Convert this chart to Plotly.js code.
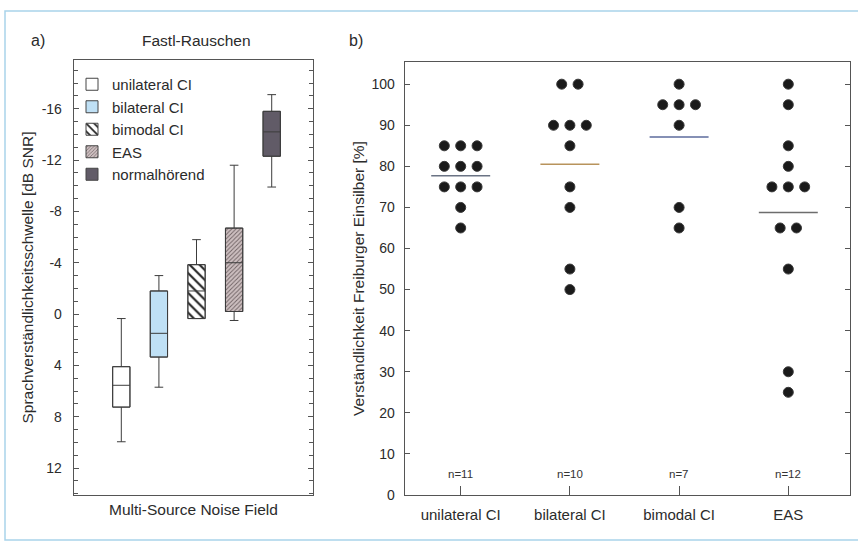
<!DOCTYPE html>
<html>
<head>
<meta charset="utf-8">
<script src="https://cdn.plot.ly/plotly-3.0.1.min.js"></script>
<style>html,body{margin:0;padding:0;background:#fff;}#chart{width:858px;height:549px;}</style>
</head>
<body>
<div id="chart"></div>
<script>
// ---------- Panel a) box plots (dB SNR, axis reversed) ----------
const boxNames = ['unilateral CI', 'bilateral CI', 'bimodal CI', 'EAS', 'normalhörend'];
const whiskerLow = [0.35, -3.0, -5.8, -11.6, -17.1];
const quartile1 = [4.1, -1.8, -3.85, -6.7, -15.8];
const medians = [5.55, 1.5, -1.8, -4.0, -14.2];
const quartile3 = [7.25, 3.35, 0.35, -0.2, -12.3];
const whiskerHigh = [9.95, 5.7, 0.35, 0.5, -9.9];
const leftTickVals = [-16, -12, -8, -4, 0, 4, 8, 12];
const leftTickText = ['-16', '-12', '-8', '-4', '0', '4', '8', '12'];

// ---------- Panel b) scores (%) ----------
const groups = ['unilateral CI', 'bilateral CI', 'bimodal CI', 'EAS'];
const scoresUnilateral = [85, 85, 85, 80, 80, 80, 75, 75, 75, 70, 65];
const scoresBilateral = [100, 100, 90, 90, 90, 85, 75, 70, 55, 50];
const scoresBimodal = [100, 95, 95, 95, 90, 70, 65];
const scoresEAS = [100, 95, 85, 80, 75, 75, 75, 65, 65, 55, 30, 25];

// ---------- styles ----------
const FONT = 'Liberation Sans, Arial, sans-serif';
const INK = '#2b2b2b';
const AXC = '#555555';
const boxStyles = [
  {color: '#ffffff', pattern: {shape: ''}},
  {color: '#bfe0f5', pattern: {shape: ''}},
  {color: '#ffffff', pattern: {shape: '\\', bgcolor: '#ffffff', fgcolor: '#222222', size: 7, solidity: 0.3}},
  {color: '#cdbfc0', pattern: {shape: '/', bgcolor: '#cdbfc0', fgcolor: '#6f6264', size: 3, solidity: 0.3}},
  {color: '#615b67', pattern: {shape: ''}}
];
const meanColors = ['#6a7384', '#b8935c', '#5d6b9c', '#6d6d6d'];

const traces = [];
const BOXW = 0.46;

boxNames.forEach((name, i) => {
  // filled (optionally hatched) box body, also used for the legend swatch
  traces.push({
    type: 'bar', x: [i], base: [quartile1[i]], y: [quartile3[i] - quartile1[i]],
    width: BOXW, name: name, xaxis: 'x', yaxis: 'y', showlegend: true,
    marker: {color: boxStyles[i].color, pattern: boxStyles[i].pattern,
             line: {color: '#444', width: 1}},
    hoverinfo: 'skip'
  });
  // outline, median and whiskers
  traces.push({
    type: 'box', x: [i], q1: [quartile1[i]], median: [medians[i]], q3: [quartile3[i]],
    lowerfence: [whiskerLow[i]], upperfence: [whiskerHigh[i]],
    width: BOXW, whiskerwidth: 0.5, name: name, xaxis: 'x', yaxis: 'y', showlegend: false,
    fillcolor: 'rgba(0,0,0,0)', line: {color: '#3c3c3c', width: 1}, hoverinfo: 'skip'
  });
});

// beeswarm-style horizontal spread of equal values, derived from the data
function spread(values, center, step) {
  const counts = {}, seen = {};
  values.forEach(v => counts[v] = (counts[v] || 0) + 1);
  return values.map(v => {
    const k = counts[v];
    const j = seen[v] = (seen[v] === undefined ? 0 : seen[v] + 1);
    return center + (j - (k - 1) / 2) * step;
  });
}
const allScores = [scoresUnilateral, scoresBilateral, scoresBimodal, scoresEAS];
allScores.forEach((vals, i) => {
  traces.push({
    type: 'scatter', mode: 'markers', x: spread(vals, i, 0.15), y: vals,
    xaxis: 'x2', yaxis: 'y2', showlegend: false, hoverinfo: 'y',
    marker: {size: 10, color: '#1a1a1a', line: {color: '#3a3a3a', width: 1}}
  });
  const mean = vals.reduce((a, b) => a + b, 0) / vals.length;
  traces.push({
    type: 'scatter', mode: 'lines', x: [i - 0.27, i + 0.27], y: [mean, mean],
    xaxis: 'x2', yaxis: 'y2', showlegend: false, hoverinfo: 'skip',
    line: {color: meanColors[i], width: 1.6}
  });
});

const minorVals = [];
for (let v = -19; v <= 14; v++) minorVals.push(v);

const annotations = [
  {text: 'a)', x: 38 / 858, y: 1 - 40 / 549, xref: 'paper', yref: 'paper', xanchor: 'center', yanchor: 'middle', showarrow: false, font: {size: 16}},
  {text: 'Fastl-Rauschen', x: 196 / 858, y: 1 - 40 / 549, xref: 'paper', yref: 'paper', xanchor: 'center', yanchor: 'middle', showarrow: false, font: {size: 15.5}},
  {text: 'b)', x: 356 / 858, y: 1 - 40 / 549, xref: 'paper', yref: 'paper', xanchor: 'center', yanchor: 'middle', showarrow: false, font: {size: 16}}
];
allScores.forEach((vals, i) => {
  annotations.push({text: 'n=' + vals.length, x: i, y: 5.2, xref: 'x2', yref: 'y2',
    showarrow: false, font: {size: 11.5, color: '#333'}});
});

const layout = {
  width: 858, height: 549,
  margin: {l: 0, r: 0, t: 0, b: 0},
  paper_bgcolor: '#ffffff', plot_bgcolor: '#ffffff',
  font: {family: FONT, color: INK, size: 14},
  barmode: 'overlay',
  showlegend: true,
  legend: {x: 72 / 858, y: 1 - 68 / 549, xanchor: 'left', yanchor: 'top',
           bgcolor: 'rgba(0,0,0,0)', font: {size: 15}, traceorder: 'normal'},
  xaxis: {
    domain: [74 / 858, 313 / 858], range: [-1.258, 5.098], anchor: 'y',
    showline: true, mirror: true, linecolor: AXC, linewidth: 1.3,
    showticklabels: false, ticks: '', showgrid: false, zeroline: false, fixedrange: true,
    title: {text: 'Multi-Source Noise Field', font: {size: 15.5}, standoff: 8}
  },
  yaxis: {
    domain: [54 / 549, 489 / 549], range: [14.1, -19.8], anchor: 'x',
    tickmode: 'array', tickvals: leftTickVals, ticktext: leftTickText,
    ticks: 'inside', ticklen: 5, tickcolor: AXC, tickfont: {size: 14},
    minor: {tickmode: 'array', tickvals: minorVals, ticks: 'inside', ticklen: 4, tickcolor: AXC, showgrid: false},
    showline: true, mirror: 'ticks', linecolor: AXC, linewidth: 1.3,
    showgrid: false, zeroline: false, ticklabelstandoff: 8,
    title: {text: 'Sprachverständlichkeitsschwelle [dB SNR]', font: {size: 15.5}}
  },
  xaxis2: {
    domain: [405 / 858, 850 / 858], range: [-0.51, 3.565], anchor: 'y2',
    tickmode: 'array', tickvals: [0, 1, 2, 3], ticktext: groups,
    ticks: 'inside', ticklen: 9, tickcolor: AXC, tickfont: {size: 15},
    showline: true, mirror: true, linecolor: AXC, linewidth: 1.3,
    showgrid: false, zeroline: false, ticklabelstandoff: 6
  },
  yaxis2: {
    domain: [54 / 549, 487 / 549], range: [0, 105.4], anchor: 'x2',
    tickmode: 'linear', tick0: 0, dtick: 10,
    ticks: 'inside', ticklen: 5, tickcolor: AXC, tickfont: {size: 14},
    showline: true, mirror: 'ticks', linecolor: AXC, linewidth: 1.3,
    showgrid: false, zeroline: false, ticklabelstandoff: 6,
    title: {text: 'Verständlichkeit Freiburger Einsilber [%]', font: {size: 15.5}}
  },
  annotations: annotations,
  shapes: [
    {type: 'rect', xref: 'paper', yref: 'paper', x0: 5 / 858, x1: 1.05, y0: 1 - 540 / 549, y1: 1 - 11 / 549,
     line: {color: '#a9d3ea', width: 1.5}, fillcolor: 'rgba(0,0,0,0)', layer: 'below'}
  ]
};

Plotly.newPlot('chart', traces, layout, {displayModeBar: false, staticPlot: true});
</script>
</body>
</html>
